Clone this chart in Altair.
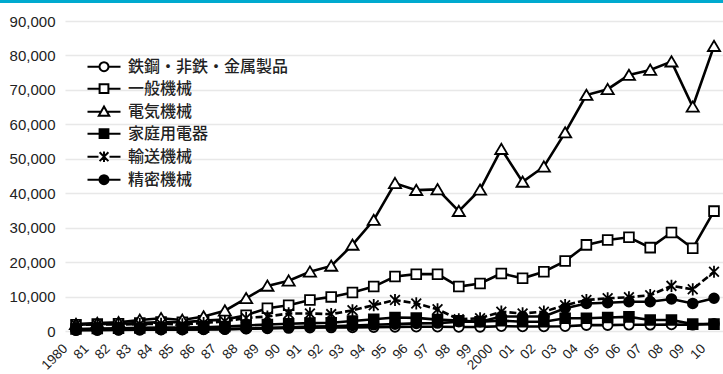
import json
import altair as alt
import pandas as pd

years = list(range(1980, 2011))
year_labels = ["1980", "81", "82", "83", "84", "85", "86", "87", "88", "89",
               "90", "91", "92", "93", "94", "95", "96", "97", "98", "99",
               "2000", "01", "02", "03", "04", "05", "06", "07", "08", "09", "10"]

series_names = ["鉄鋼・非鉄・金属製品", "一般機械", "電気機械", "家庭用電器", "輸送機械", "精密機械"]

steel = [300, 350, 350, 400, 450, 450, 500, 550, 650, 750, 850, 950, 1000, 1050, 1100,
         1200, 1250, 1250, 1150, 1200, 1400, 1300, 1300, 1400, 1700, 1700, 1800, 1800, 1900, 1800, 2100]
general = [1800, 2000, 2100, 2300, 2600, 2500, 3000, 3300, 4600, 6600, 7500, 9000, 9900, 11200, 12900,
           15800, 16500, 16500, 12900, 13800, 16700, 15300, 17200, 20300, 25000, 26400, 27200, 24200, 28600, 24000, 34800]
electric = [2000, 2300, 2500, 3200, 3700, 3200, 4200, 5900, 9500, 13100, 14600, 17200, 18900, 25000, 32200,
            42900, 40900, 41100, 34800, 41000, 52800, 43300, 47700, 57600, 68500, 70200, 74300, 75800, 78200, 65100, 82700]
household = [600, 700, 800, 900, 1000, 1000, 1100, 1300, 1600, 1900, 2100, 2300, 2400, 2900, 3400,
             3900, 3800, 3300, 3000, 2700, 3000, 2700, 2700, 3700, 3700, 3900, 4100, 3200, 3200, 2000, 2000]
transport = [1800, 1900, 1900, 2000, 2100, 1900, 2300, 2800, 3800, 4200, 5100, 5100, 4900, 6000, 7500,
             9000, 8000, 6300, 3400, 3700, 5600, 5100, 5600, 7500, 9000, 9500, 9800, 10400, 13100, 12100, 17200]
precision = [200, 250, 300, 350, 400, 400, 450, 550, 700, 900, 1100, 1300, 1400, 1600, 1800,
             2000, 2200, 2300, 2700, 2700, 4200, 4200, 4200, 6600, 8000, 8200, 8500, 8500, 9300, 8000, 9500]

all_values = [steel, general, electric, household, transport, precision]

y_ticks = [0, 10000, 20000, 30000, 40000, 50000, 60000, 70000, 80000, 90000]

rows = []
for name, vals in zip(series_names, all_values):
    for yr, v in zip(years, vals):
        rows.append({"year": yr, "value": v, "series": name})
df = pd.DataFrame(rows)

TRI = "M0,-1.1L1.25,1H-1.25Z"
AST = "M-1,-1L1,1M-1,1L1,-1M0,-1.25V1.25"
marker_shapes = ["circle", "square", TRI, "square", AST, "circle"]
marker_fills = ["white", "white", "white", "black", "white", "black"]
marker_strokes = ["black"] * 6

legend_paths = [
    "M-3,0H-0.82M0.82,0H3M-0.82,0A0.82,0.82,0,1,0,0.82,0A0.82,0.82,0,1,0,-0.82,0Z",
    "M-3,0H-0.8M0.8,0H3M-0.8,-0.8H0.8V0.8H-0.8Z",
    "M-3,0H-0.5M0.5,0H3M0,-0.95L0.95,0.75H-0.95Z",
    "M-3,0H-0.8M0.8,0H3M-0.8,-0.8H0.8V0.8H-0.8Z",
    "M-3,0H-1M1,0H3M-0.8,-0.8L0.8,0.8M-0.8,0.8L0.8,-0.8M0,-0.95V0.95",
    "M-3,0H-0.82M0.82,0H3M-0.82,0A0.82,0.82,0,1,0,0.82,0A0.82,0.82,0,1,0,-0.82,0Z",
]

label_expr = json.dumps(year_labels) + "[datum.value - 1980]"

x_enc = alt.X("year:Q",
              scale=alt.Scale(domain=[1979.483, 2010.423], nice=False, zero=False),
              axis=alt.Axis(values=years, labelExpr=label_expr, labelAngle=-45,
                            labelAlign="right", labelBaseline="middle",
                            labelPadding=15, labelOffset=-11, labelFontSize=13.5,
                            labelFont="Liberation Sans", labelColor="#222",
                            labelOverlap=False, grid=False, domain=False, ticks=False,
                            title=None))
y_enc = alt.Y("value:Q",
              scale=alt.Scale(domain=[0, 90000], nice=False),
              axis=alt.Axis(values=y_ticks, format=",.0f", grid=True, gridColor="#e8e8e8",
                            gridWidth=1.5, domain=False, ticks=False, labelPadding=10,
                            labelFontSize=15, labelFont="Liberation Sans", labelColor="#222",
                            title=None))

base = alt.Chart(df)

solid = base.transform_filter(alt.datum.series != "輸送機械").mark_line(
    color="black", strokeWidth=2.6).encode(x=x_enc, y=y_enc, detail="series:N")
dashed = base.transform_filter(alt.datum.series == "輸送機械").mark_line(
    color="black", strokeWidth=2.6, strokeDash=[7, 3]).encode(x=x_enc, y=y_enc, detail="series:N")

points = base.mark_point(filled=True, strokeWidth=1.8, size=95, opacity=1).encode(
    x=x_enc, y=y_enc,
    shape=alt.Shape("series:N", scale=alt.Scale(domain=series_names, range=marker_shapes), legend=None),
    fill=alt.Fill("series:N", scale=alt.Scale(domain=series_names, range=marker_fills), legend=None),
    stroke=alt.Stroke("series:N", scale=alt.Scale(domain=series_names, range=marker_strokes), legend=None),
)

leg = alt.Legend(title=None, orient="none", legendX=31, legendY=37.7,
                 labelFont="Noto Sans CJK JP", labelFontSize=16, labelColor="#222",
                 labelFontWeight=500,
                 labelOffset=16, rowPadding=4, padding=0, symbolStrokeColor="black",
                 symbolStrokeWidth=2, symbolSize=121, direction="vertical", labelLimit=300)

legend_layer = base.transform_filter("false").mark_point(
    filled=True, strokeWidth=2, size=121, opacity=1).encode(
    shape=alt.Shape("series:N", scale=alt.Scale(domain=series_names, range=legend_paths), legend=leg),
    fill=alt.Fill("series:N", scale=alt.Scale(domain=series_names, range=marker_fills), legend=leg),
    stroke=alt.Stroke("series:N", scale=alt.Scale(domain=series_names, range=marker_strokes), legend=leg),
)

bar = alt.Chart(pd.DataFrame({"a": [0]})).mark_rule(color="#00AACF", strokeWidth=3).encode(
    x=alt.value(-65), x2=alt.value(658), y=alt.value(-19.5))

chart = alt.layer(solid, dashed, points, legend_layer, bar).resolve_scale(
    shape="independent", fill="independent", stroke="independent"
).properties(
    width=658, height=310,
    autosize=alt.AutoSizeParams(type="none"),
    padding={"left": 65, "top": 21, "right": 0, "bottom": 43},
    background="white",
).configure_view(stroke=None)

chart.save("out.html", embed_options={"renderer": "svg", "actions": False})
